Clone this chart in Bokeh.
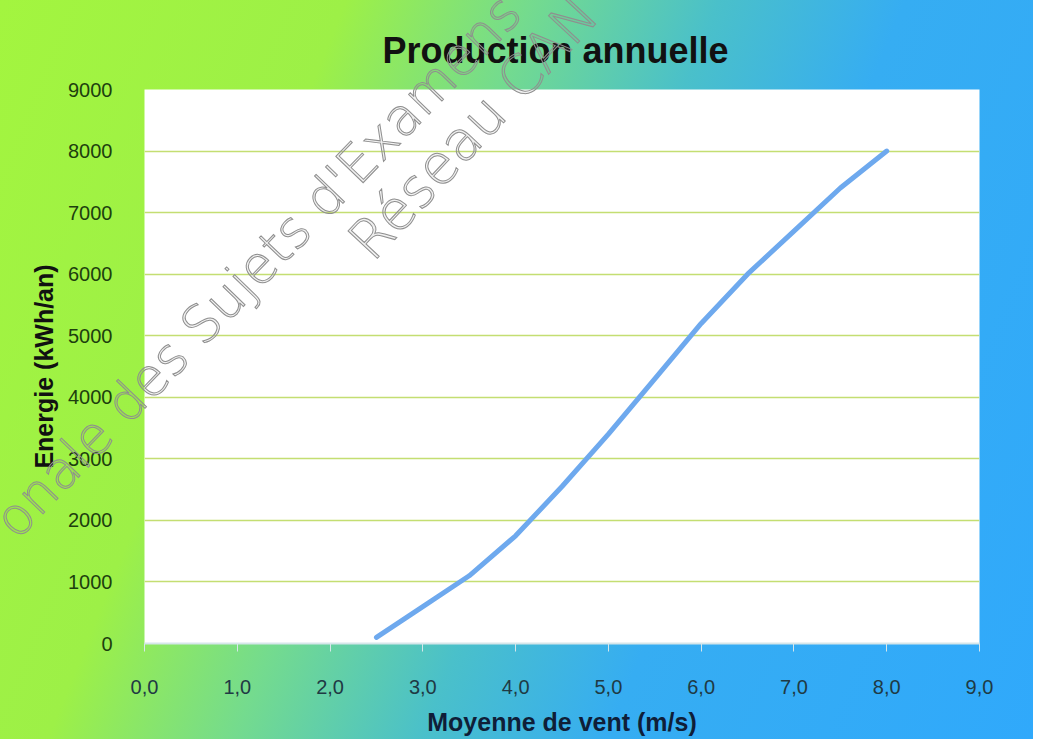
from bokeh.plotting import figure
from bokeh.models import Range1d, FixedTicker, Div
from bokeh.layouts import column
from bokeh.embed import file_html
from bokeh.resources import INLINE

# ---- data ----
wind = [2.5, 3.0, 3.5, 4.0, 4.5, 5.0, 5.5, 6.0, 6.5, 7.0, 7.5, 8.0]
energy = [100, 600, 1100, 1750, 2550, 3400, 4300, 5200, 6000, 6700, 7400, 8000]

x_ticks = [0, 1, 2, 3, 4, 5, 6, 7, 8, 9]
x_tick_labels = ["0,0", "1,0", "2,0", "3,0", "4,0", "5,0", "6,0", "7,0", "8,0", "9,0"]
y_ticks = [0, 1000, 2000, 3000, 4000, 5000, 6000, 7000, 8000, 9000]
y_tick_labels = ["0", "1000", "2000", "3000", "4000", "5000", "6000", "7000", "8000", "9000"]

title_text = "Production annuelle"
x_label = "Moyenne de vent (m/s)"
y_label = "Energie (kWh/an)"
watermark_1 = "onale des Sujets d'Examens"
watermark_2 = "Réseau CAN"

FONT = "Liberation Sans"

fig = figure(width=1033, height=739, output_backend="svg", toolbar_location=None,
             x_range=Range1d(0, 9), y_range=Range1d(0, 9000),
             min_border_left=144, min_border_right=54,
             min_border_top=89, min_border_bottom=96)

fig.border_fill_color = None
fig.background_fill_color = "white"
fig.outline_line_color = None
fig.styles = {"background": "linear-gradient(112deg, #a3f53f 0%, #9df047 26%, #74db8e 40%, #4ac0ca 54%, #36adf2 68%, #30a9fb 100%)"}

# title
fig.title.text = title_text
fig.title.align = "left"
fig.title.offset = 238
fig.title.text_font = FONT
fig.title.text_font_size = "36px"
fig.title.text_font_style = "bold"
fig.title.text_color = "#111111"
fig.title.standoff = 38

# x axis
xa = fig.xaxis[0]
xa.ticker = FixedTicker(ticks=x_ticks)
xa.major_label_overrides = {t: l for t, l in zip(x_ticks, x_tick_labels)}
xa.major_label_text_font = FONT
xa.major_label_text_font_size = "20px"
xa.major_label_text_color = "#1f3a44"
xa.major_label_standoff = 28
xa.major_tick_out = 8
xa.major_tick_in = 0
xa.minor_tick_line_color = None
xa.major_tick_line_color = "#d6e6ea"
xa.axis_line_color = "#d6e6ea"
xa.axis_line_width = 2
xa.axis_label = x_label
xa.axis_label_text_font = FONT
xa.axis_label_text_font_size = "25px"
xa.axis_label_text_font_style = "bold"
xa.axis_label_text_color = "#0f1e38"
xa.axis_label_standoff = 11

# y axis
ya = fig.yaxis[0]
ya.ticker = FixedTicker(ticks=y_ticks)
ya.major_label_overrides = {t: l for t, l in zip(y_ticks, y_tick_labels)}
ya.major_label_text_font = FONT
ya.major_label_text_font_size = "20px"
ya.major_label_text_color = "#1d3f0e"
ya.major_label_standoff = 26
ya.major_tick_line_color = None
ya.minor_tick_line_color = None
ya.axis_line_color = None
ya.axis_label = y_label
ya.axis_label_text_font = FONT
ya.axis_label_text_font_size = "25px"
ya.axis_label_text_font_style = "bold"
ya.axis_label_text_color = "#111111"
ya.axis_label_standoff = 7

# grid
fig.xgrid.grid_line_color = None
fig.ygrid.ticker = FixedTicker(ticks=y_ticks[1:-1])
fig.ygrid.grid_line_color = "#c4de72"
fig.ygrid.grid_line_width = 1.5

# curve
fig.line(wind, energy, line_color="#6ea9ee", line_width=5, line_cap="round", line_join="round")


# watermark: outlined grey text laid over the whole chart
def watermark(text, left, top, angle, size, base):
    span = ('<span style="display:block; font-family:\'DejaVu Sans Light\', \'DejaVu Sans\'; '
            f'font-size:{size}px; line-height:{size}px; white-space:nowrap; '
            'color:rgba(138,138,138,0.12); -webkit-text-stroke:1px #8f8f8f;">'
            + text + '</span>')
    return Div(text=span, styles={
        "position": "absolute", "left": f"{left}px", "top": f"{top}px",
        "transform": f"rotate(-{angle}deg)", "transform-origin": f"0px {base}px",
        "z-index": "10", "pointer-events": "none", "margin": "0",
    })


wm1 = watermark(watermark_1, 17, 497, 46, 52, 44)
wm2 = watermark(watermark_2, 373, 217, 47, 55, 46.5)

p = column(fig, wm1, wm2)

open("out.html", "w").write(file_html(p, INLINE))
